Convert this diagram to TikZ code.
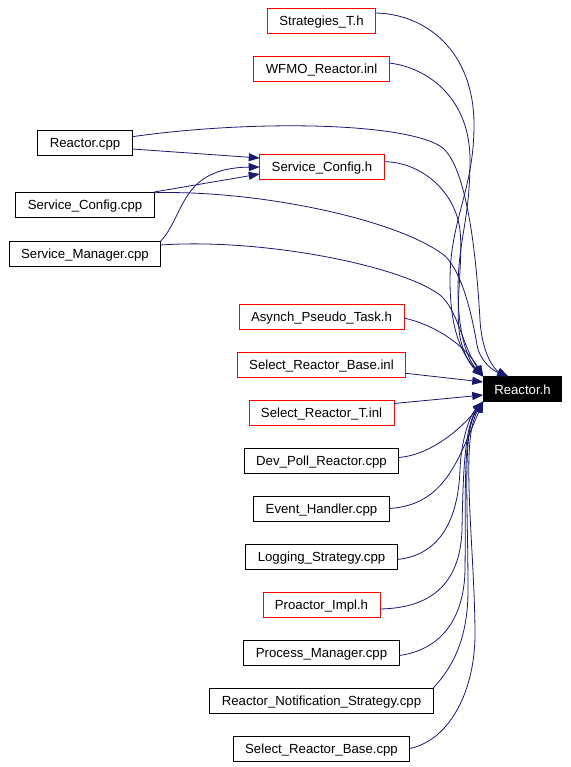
\documentclass[tikz,border=0pt]{standalone}
\usepackage{fontspec}
\setmainfont{Liberation Sans}
\usepackage{xcolor}
\usepackage{tikz}
\usetikzlibrary{arrows.meta, positioning}
\definecolor{edgeblue}{RGB}{25,25,112}
\definecolor{hdrred}{RGB}{255,0,0}

\begin{document}
\begin{tikzpicture}[
    x=1pt, y=-1pt,
    node distance=23pt,
    box/.style={draw, minimum height=25pt, inner xsep=12pt, inner ysep=0pt, outer sep=0pt,
                text height=10pt, text depth=0pt,
                font=\fontsize{13.2}{15}\selectfont, line width=0.8pt, text centered},
    hdr/.style={box, draw=hdrred},
    src/.style={box, draw=black},
    focus/.style={box, fill=black, text=white, inner xsep=11pt},
    dep/.style={-{Triangle[length=11pt, width=8pt]}, line width=0.8pt, color=edgeblue},
]
\path[use as bounding box, fill=white] (0,0) rectangle (570,767);

% --- Focus file ---
\node[focus] (reactor) at (522.5,389) {Reactor.h};

% --- Upper column ---
\node[hdr] (strat) at (321.5,20.5) {Strategies\_T.h};
\node[hdr, below=of strat] (wfmo) {WFMO\_Reactor.inl};
\node[hdr] (schdr) at (322,167) {Service\_Config.h};

% --- Left column ---
\node[src] (rcpp) at (85,143) {Reactor.cpp};
\node[src] (sccpp) at (85,204.5) {Service\_Config.cpp};
\node[src, below=24pt of sccpp] (smcpp) {Service\_Manager.cpp};

% --- Lower column ---
\node[hdr] (apt) at (321.5,316.5) {Asynch\_Pseudo\_Task.h};
\node[hdr, below=of apt] (srbinl) {Select\_Reactor\_Base.inl};
\node[hdr, below=of srbinl] (srtinl) {Select\_Reactor\_T.inl};
\node[src, below=of srtinl] (dpr) {Dev\_Poll\_Reactor.cpp};
\node[src, below=of dpr] (evh) {Event\_Handler.cpp};
\node[src, below=of evh] (logs) {Logging\_Strategy.cpp};
\node[hdr, below=of logs] (proi) {Proactor\_Impl.h};
\node[src, below=of proi] (pmgr) {Process\_Manager.cpp};
\node[src, below=of pmgr] (rns) {Reactor\_Notification\_Strategy.cpp};
\node[src, below=of rns] (srbcpp) {Select\_Reactor\_Base.cpp};

% --- Edges: into Service_Config.h ---
\draw[dep] ([yshift=-6pt]rcpp.east) -- ([yshift=9pt]schdr.west);
\draw[dep] (sccpp.north east) -- ([yshift=-7pt]schdr.west);
\draw[dep] (smcpp.north east) .. controls (185,215) and (180,168) .. (schdr.west);

% --- Edges: into Reactor.h from above ---
\draw[dep] ([yshift=7.5pt]strat.east) .. controls (425,14) and (474,50) .. (474,125)
    .. controls (474,190) and (450,220) .. (450,280)
    .. controls (450,330) and (462,355) .. (reactor.north west);
\draw[dep] ([yshift=5.5pt]wfmo.east) .. controls (430,68) and (470,100) .. (470,160)
    .. controls (470,220) and (458,240) .. (458,290)
    .. controls (458,335) and (468,360) .. (reactor.north west);
\draw[dep] ([yshift=6.3pt]rcpp.east) .. controls (250,120) and (400,122) .. (440,146)
    .. controls (466,162) and (476,250) .. (480,320)
    .. controls (482,355) and (495,370) .. ([xshift=25pt]reactor.north west);
\draw[dep] ([yshift=-0.7pt]sccpp.north east) .. controls (260,190) and (400,220) .. (445,256)
    .. controls (462,272) and (472,315) .. (477,345)
    .. controls (480,362) and (494,371) .. ([xshift=25pt]reactor.north west);
\draw[dep] ([yshift=-4pt]smcpp.north east) .. controls (260,238) and (400,265) .. (440,295)
    .. controls (458,310) and (462,345) .. (reactor.north west);
\draw[dep] ([yshift=5.3pt]schdr.east) .. controls (420,162) and (455,190) .. (460,230)
    .. controls (463,260) and (456,300) .. (459,330)
    .. controls (461,350) and (470,365) .. (reactor.north west);
\draw[dep] ([yshift=-1.5pt]apt.east) .. controls (435,325) and (465,345) .. (reactor.north west);

% --- Edges: into Reactor.h from the side ---
\draw[dep] ([yshift=-8.8pt]srbinl.east) -- ([yshift=7pt]reactor.west);
\draw[dep] ([yshift=9pt]srtinl.east) -- ([yshift=-6pt]reactor.west);

% --- Edges: into Reactor.h from below ---
\draw[dep] ([yshift=3pt]dpr.east) .. controls (430,455) and (460,430) .. (reactor.south west);
\draw[dep] (evh.east) .. controls (445,505) and (458,460) .. (reactor.south west);
\draw[dep] ([yshift=-3pt]logs.east) .. controls (440,555) and (458,520) .. (460,470)
    .. controls (461,440) and (470,415) .. (reactor.south west);
\draw[dep] ([yshift=-4.5pt]proi.east) .. controls (430,608) and (460,585) .. (462,530)
    .. controls (463,470) and (465,425) .. (reactor.south west);
\draw[dep] ([yshift=-3pt]pmgr.east) .. controls (440,650) and (464,620) .. (465,570)
    .. controls (466,500) and (462,430) .. (reactor.south west);
\draw[dep] (rns.north east) .. controls (455,665) and (468,635) .. (468,590)
    .. controls (468,500) and (462,430) .. (reactor.south west);
\draw[dep] (srbcpp.east) .. controls (450,740) and (476,690) .. (475,630)
    .. controls (474,540) and (460,440) .. (reactor.south west);

\end{tikzpicture}
\end{document}
